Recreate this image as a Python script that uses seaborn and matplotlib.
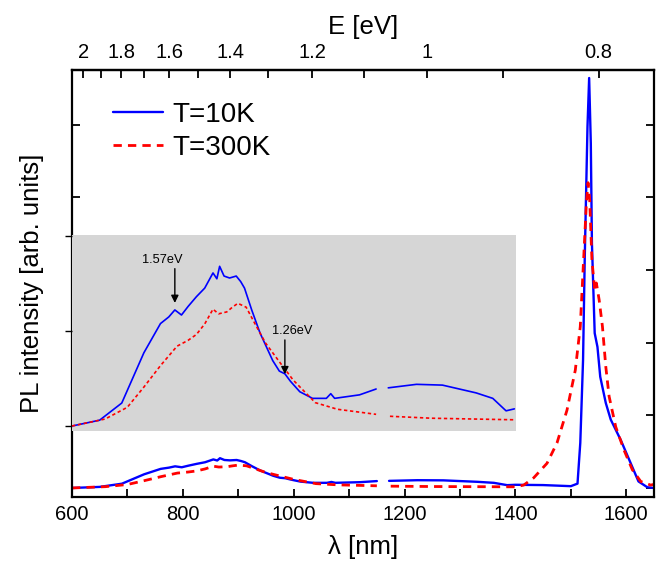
import numpy as np
import pandas as pd
import matplotlib
matplotlib.use("Agg")
import matplotlib.pyplot as plt
import seaborn as sns
from matplotlib.lines import Line2D

# ---------------- data (PL intensity, arb. units) ----------------
# T = 10 K, two measured segments (detector change gap near 1160 nm)
wl_10K_a = [600, 650, 690, 730, 760, 775, 786, 798, 810, 825, 840, 855, 862, 867,
            875, 885, 897, 905, 912, 925, 940, 963, 975, 985, 995, 1012, 1035,
            1060, 1068, 1075, 1120, 1150]
pl_10K_a = [0.0, 0.015, 0.059, 0.188, 0.263, 0.280, 0.298, 0.285, 0.307, 0.332,
            0.354, 0.393, 0.378, 0.410, 0.385, 0.380, 0.385, 0.371, 0.354, 0.298,
            0.239, 0.168, 0.141, 0.134, 0.115, 0.088, 0.071, 0.071, 0.083, 0.071,
            0.080, 0.095]
wl_10K_b = [1172, 1223, 1270, 1331, 1361, 1385, 1400, 1450, 1500, 1512, 1517, 1522,
            1525, 1530, 1533, 1536, 1538, 1543, 1548, 1553, 1563, 1572, 1590, 1608,
            1622, 1638, 1650]
pl_10K_b = [0.098, 0.107, 0.105, 0.085, 0.071, 0.039, 0.044, 0.040, 0.025, 0.06,
            0.62, 1.76, 3.14, 4.97, 5.64, 4.74, 3.37, 2.13, 1.94, 1.53, 1.17, 0.94,
            0.66, 0.34, 0.09, 0.01, 0.0]

# T = 300 K
wl_300K_a = [600, 660, 700, 730, 760, 790, 810, 825, 840, 855, 865, 880, 890, 900,
             915, 930, 950, 975, 1000, 1040, 1080, 1150]
pl_300K_a = [0.0, 0.018, 0.048, 0.100, 0.155, 0.205, 0.220, 0.235, 0.262, 0.300,
             0.288, 0.293, 0.305, 0.315, 0.305, 0.265, 0.213, 0.165, 0.118, 0.060,
             0.043, 0.030]
wl_300K_b = [1175, 1250, 1400, 1415, 1433, 1457, 1475, 1493, 1508, 1517, 1523, 1528,
             1531, 1534, 1538, 1543, 1546, 1551, 1557, 1563, 1569, 1581, 1596, 1611,
             1626, 1644, 1650]
pl_300K_b = [0.025, 0.020, 0.016, 0.04, 0.14, 0.34, 0.62, 1.07, 1.62, 2.22, 3.14,
             3.92, 4.20, 3.96, 3.14, 2.72, 2.82, 2.59, 2.22, 1.67, 1.26, 0.84, 0.52,
             0.25, 0.09, 0.04, 0.05]

series_labels = ["T=10K", "T=300K"]
top_ticks_eV = [2.0, 1.9, 1.8, 1.7, 1.6, 1.5, 1.4, 1.3, 1.2, 1.1, 1.0, 0.9, 0.8]
top_labels = ["2", "", "1.8", "", "1.6", "", "1.4", "", "1.2", "", "1", "", "0.8"]
bottom_ticks = [600, 700, 800, 900, 1000, 1100, 1200, 1300, 1400, 1500, 1600]
bottom_labels = ["600", "", "800", "", "1000", "", "1200", "", "1400", "", "1600"]
# (label, arrow wavelength, arrow tip value, label x offset in nm)
annotations = [("1.57eV", 786, 0.316, -22), ("1.26eV", 985, 0.133, 14)]


def frame(wa, pa, wb, pb):
    a = pd.DataFrame({"wl": wa, "pl": pa, "seg": 0})
    b = pd.DataFrame({"wl": wb, "pl": pb, "seg": 1})
    return pd.concat([a, b], ignore_index=True)


df10 = frame(wl_10K_a, pl_10K_a, wl_10K_b, pl_10K_b)
df300 = frame(wl_300K_a, pl_300K_a, wl_300K_b, pl_300K_b)

# ---------------- style ----------------
sns.set_theme(style="ticks")
plt.rcParams["font.family"] = ["Liberation Sans", "DejaVu Sans"]
plt.rcParams.update({
    "axes.linewidth": 1.6,
    "axes.edgecolor": "black",
    "axes.labelcolor": "black",
    "text.color": "black",
    "xtick.color": "black",
    "ytick.color": "black",
})

BLUE = "#0000ff"
RED = "#ff0000"

fig = plt.figure(figsize=(6.68, 5.71), dpi=100)
L, R, B, T = 72 / 668, 654 / 668, 1 - 497 / 571, 1 - 70 / 571
ax = fig.add_axes([L, B, R - L, T - B])

sns.lineplot(data=df10, x="wl", y="pl", units="seg", estimator=None, sort=False,
             color=BLUE, lw=1.7, ax=ax, legend=False)
sns.lineplot(data=df300, x="wl", y="pl", units="seg", estimator=None, sort=False,
             color=RED, lw=2.0, ax=ax, legend=False, linestyle=(0, (3, 2.2)))

ax.set_xlim(600, 1650)
ax.set_ylim(-0.124, 5.75)
ax.set_xticks(bottom_ticks)
ax.set_xticklabels(bottom_labels)
ax.set_yticks([0, 1, 2, 3, 4, 5])
ax.set_yticklabels([])
ax.tick_params(axis="both", direction="in", length=6, width=1.3, labelsize=14.5,
               top=False, right=True, left=True, bottom=True, pad=6)
ax.set_xlabel("λ [nm]", fontsize=18.5, labelpad=8)
ax.set_ylabel("PL intensity [arb. units]", fontsize=18.5, labelpad=14)


def nm_to_ev(x):
    x = np.asarray(x, dtype=float)
    with np.errstate(divide="ignore", invalid="ignore"):
        return 1240.0 / x


secax = ax.secondary_xaxis("top", functions=(nm_to_ev, nm_to_ev))
secax.set_xticks(top_ticks_eV)
secax.set_xticklabels(top_labels)
secax.tick_params(direction="in", length=6, width=1.3, labelsize=14.5, pad=6)
secax.set_xlabel("E [eV]", fontsize=18.5, labelpad=6)

handles = [Line2D([], [], color=BLUE, lw=1.7),
           Line2D([], [], color=RED, lw=2.0, linestyle=(0, (3, 2.2)))]
ax.legend(handles, series_labels, loc="upper left", bbox_to_anchor=(0.07, 0.925),
          frameon=False, fontsize=20, handlelength=1.8, handletextpad=0.35,
          labelspacing=0.25, borderpad=0, borderaxespad=0)

# ---------------- inset (magnified visible range) ----------------
iL, iR, iB, iT = 72 / 668, 516 / 668, 1 - 431 / 571, 1 - 235 / 571
ins = fig.add_axes([iL, iB, iR - iL, iT - iB], facecolor="#d6d6d6", zorder=3)
ins10 = df10[df10["wl"] <= 1400]
ins300 = df300[df300["wl"] <= 1400]
sns.lineplot(data=ins10, x="wl", y="pl", units="seg", estimator=None, sort=False,
             color=BLUE, lw=1.2, ax=ins, legend=False)
sns.lineplot(data=ins300, x="wl", y="pl", units="seg", estimator=None, sort=False,
             color=RED, lw=1.2, ax=ins, legend=False, linestyle=(0, (2, 1.6)))
ins.set_xlim(600, 1403)
gain = 4.1
ins.set_ylim(-0.0128, 0.4904)
for s in ins.spines.values():
    s.set_visible(False)
ins.set_xticks([])
ins.set_yticks([0, 1 / gain, 2 / gain])
ins.set_yticklabels([])
ins.tick_params(axis="y", direction="out", length=5, width=1.0, left=True)
ins.set_xlabel("")
ins.set_ylabel("")

for text, wl, val, dx in annotations:
    tail = val + 0.088
    ins.annotate("", xy=(wl, val), xytext=(wl, tail),
                 arrowprops=dict(arrowstyle="-|>", color="black", lw=1.0,
                                 mutation_scale=11, shrinkA=0, shrinkB=0))
    ins.text(wl + dx, tail + 0.008, text, ha="center", va="bottom", fontsize=9.2)

fig.savefig("out.png", dpi=100)
